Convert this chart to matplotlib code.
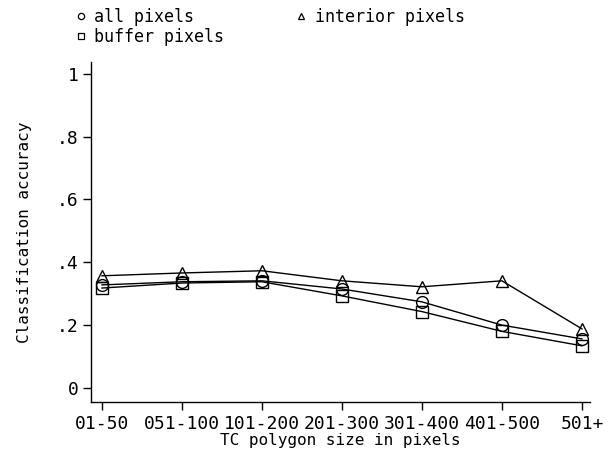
import matplotlib
matplotlib.use("Agg")
import matplotlib.pyplot as plt
from matplotlib.lines import Line2D

#  Data
# ******************************
size_classes = ["01-50", "051-100", "101-200", "201-300", "301-400", "401-500", "501+"]
all_pixels = [0.328, 0.338, 0.341, 0.315, 0.274, 0.200, 0.156]
interior_pixels = [0.357, 0.366, 0.373, 0.341, 0.322, 0.341, 0.188]
buffer_pixels = [0.318, 0.334, 0.338, 0.293, 0.243, 0.180, 0.134]
y_ticks = [0, 0.2, 0.4, 0.6, 0.8, 1.0]
y_tick_labels = ["0", ".2", ".4", ".6", ".8", "1"]

plt.rcParams["font.family"] = ["DejaVu Sans Mono"]

fig = plt.figure(figsize=(6.16, 4.51), dpi=100)
ax = fig.add_axes([0.1477, 0.1086, 0.81, 0.754])

x = list(range(len(size_classes)))
mk = dict(color="black", lw=1.0, markerfacecolor="none", markeredgecolor="black",
          markeredgewidth=1.0, markersize=8.5)
ax.plot(x, all_pixels, marker="o", **mk)
ax.plot(x, interior_pixels, marker="^", **mk)
ax.plot(x, buffer_pixels, marker="s", **mk)

ax.set_xlim(-0.1375, 6.1)
ax.set_ylim(-0.045, 1.038)
ax.set_xticks(x)
ax.set_xticklabels(size_classes, fontsize=13)
ax.set_yticks(y_ticks)
ax.set_yticklabels(y_tick_labels, fontsize=13)
ax.tick_params(length=6, width=1.0, pad=3)
for s in ["top", "right"]:
    ax.spines[s].set_visible(False)
for s in ["left", "bottom"]:
    ax.spines[s].set_linewidth(1.0)

ax.set_xlabel("TC polygon size in pixels", fontsize=11.5, labelpad=0)
ax.set_ylabel("Classification accuracy", fontsize=11.5, labelpad=18)

# legend on top (2 columns, no frame)
lk = dict(color="none", markerfacecolor="none", markeredgecolor="black", markeredgewidth=0.9, markersize=4.5)
handles = [Line2D([], [], marker="o", **lk),
           Line2D([], [], marker="s", **lk),
           Line2D([], [], marker="^", **lk)]
labels = ["all pixels", "buffer pixels", "interior pixels"]
fig.legend(handles, labels, loc="upper left", bbox_to_anchor=(0.112, 0.998), ncol=2,
           frameon=False, handlelength=0.6, handletextpad=0.5, labelspacing=0.15,
           columnspacing=4.35, borderaxespad=0, prop={"size": 12})

fig.savefig("out.png", dpi=100)
